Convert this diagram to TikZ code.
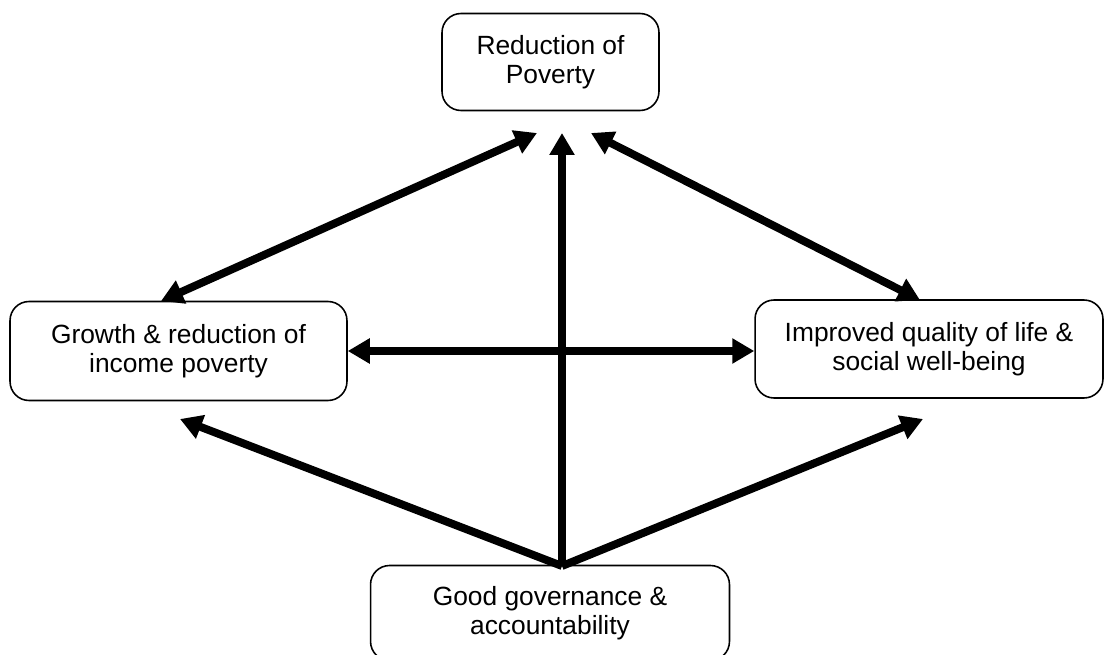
\documentclass[tikz,border=0pt]{standalone}
\usepackage{fontspec}
\setmainfont{Liberation Sans}
\usetikzlibrary{arrows.meta}
\tikzset{
  goalbox/.style={draw,line width=0.9pt,rounded corners=0.38cm,align=center,inner sep=0pt,font=\fontsize{15}{16.5}\selectfont},
  link/.style={line width=4.5pt,-{Triangle[length=0.44cm,width=0.48cm]}},
  twolink/.style={line width=4.5pt,{Triangle[length=0.44cm,width=0.48cm]}-{Triangle[length=0.44cm,width=0.48cm]}}
}
\begin{document}
\begin{tikzpicture}[x=0.02cm,y=-0.02cm]
      \useasboundingbox (0,0) rectangle (1105,655);
      % boxes
      \node[goalbox,minimum width=4.34cm,minimum height=1.94cm] (poverty) at (550.5,62) {Reduction of\\Poverty};
      \node[goalbox,minimum width=6.74cm,minimum height=1.98cm] (growth) at (178.5,351) {Growth \& reduction of\\income poverty};
      \node[goalbox,minimum width=6.96cm,minimum height=1.96cm] (quality) at (929,349) {Improved quality of life \&\\social well-being};
      \node[goalbox,minimum width=7.18cm,minimum height=1.9cm] (governance) at (550,613) {Good governance \&\\accountability};
      % arrow ends
      \coordinate (hub) at (562,566);
      \coordinate (povl) at (537,133);
      \coordinate (povm) at (562,133);
      \coordinate (povr) at (591,133);
      \coordinate (growthtop) at (161,301);
      \coordinate (qualitytop) at (920,300);
      \coordinate (growthlow) at (180,419);
      \coordinate (qualitylow) at (923,419);
      % arrows
      \draw[twolink] (povl) -- (growthtop);
      \draw[twolink] (povr) -- (qualitytop);
      \draw[twolink] (growth.east) -- (growth.east -| quality.west);
      \draw[link] (hub) -- (povm);
      \draw[link] (hub) -- (growthlow);
      \draw[link] (hub) -- (qualitylow);
    \end{tikzpicture}
\end{document}
